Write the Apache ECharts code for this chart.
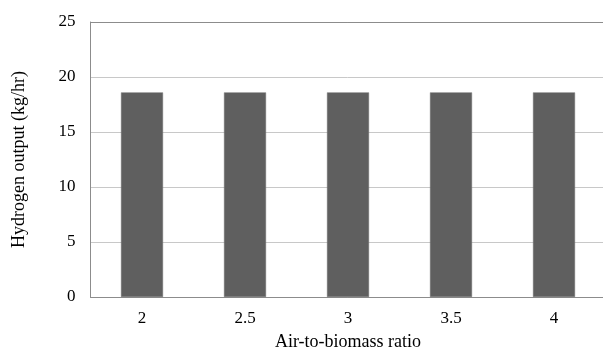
<!DOCTYPE html>
<html>
<head>
<meta charset="utf-8">
<script src="https://cdn.jsdelivr.net/npm/echarts@6/dist/echarts.min.js"></script>
<style>
  html, body { margin: 0; padding: 0; background: #fff; }
  #chart { width: 603px; height: 352px; }
</style>
</head>
<body>
<div id="chart"></div>
<script>
// Air-to-biomass ratio categories and hydrogen output values (kg/hr)
const ratios = ['2', '2.5', '3', '3.5', '4'];
const hydrogenOutput = [18.6, 18.6, 18.6, 18.6, 18.6];
const yTicks = [0, 5, 10, 15, 20, 25];

const serif = '"Liberation Serif", "Times New Roman", serif';
const axisGrey = '#8c8c8c';
const chart = echarts.init(document.getElementById('chart'), null, { renderer: 'canvas' });

chart.setOption({
  animation: false,
  backgroundColor: '#ffffff',
  grid: {
    left: 90.5, top: 22, width: 515, height: 275, show: false,
    outerBoundsMode: 'none', containLabel: false
  },
  xAxis: [{
    type: 'category',
    data: ratios,
    name: 'Air-to-biomass ratio',
    nameLocation: 'middle',
    nameGap: 36,
    nameTextStyle: { fontFamily: serif, fontSize: 18, color: '#000' },
    axisLine: { lineStyle: { color: axisGrey } },
    axisTick: { show: false },
    axisLabel: { fontFamily: serif, fontSize: 17, color: '#000', margin: 13 }
  }, {
    // top frame line of the plot area
    type: 'category',
    data: ratios,
    position: 'top',
    axisLine: { show: true, lineStyle: { color: axisGrey } },
    axisTick: { show: false },
    axisLabel: { show: false }
  }],
  yAxis: {
    type: 'value',
    min: yTicks[0],
    max: yTicks[yTicks.length - 1],
    interval: 5,
    name: 'Hydrogen output (kg/hr)',
    nameLocation: 'middle',
    nameGap: 62,
    nameTextStyle: { fontFamily: serif, fontSize: 18, color: '#000' },
    axisLine: { show: true, lineStyle: { color: axisGrey } },
    axisTick: { show: false },
    axisLabel: { fontFamily: serif, fontSize: 17, color: '#000', margin: 15 },
    splitLine: { lineStyle: { color: '#c8c8c8' } }
  },
  series: [{
    type: 'bar',
    data: hydrogenOutput,
    barWidth: 42,
    itemStyle: { color: '#5f5f5f', borderColor: '#6e6e6e', borderWidth: 0.5 }
  }]
});
</script>
</body>
</html>
